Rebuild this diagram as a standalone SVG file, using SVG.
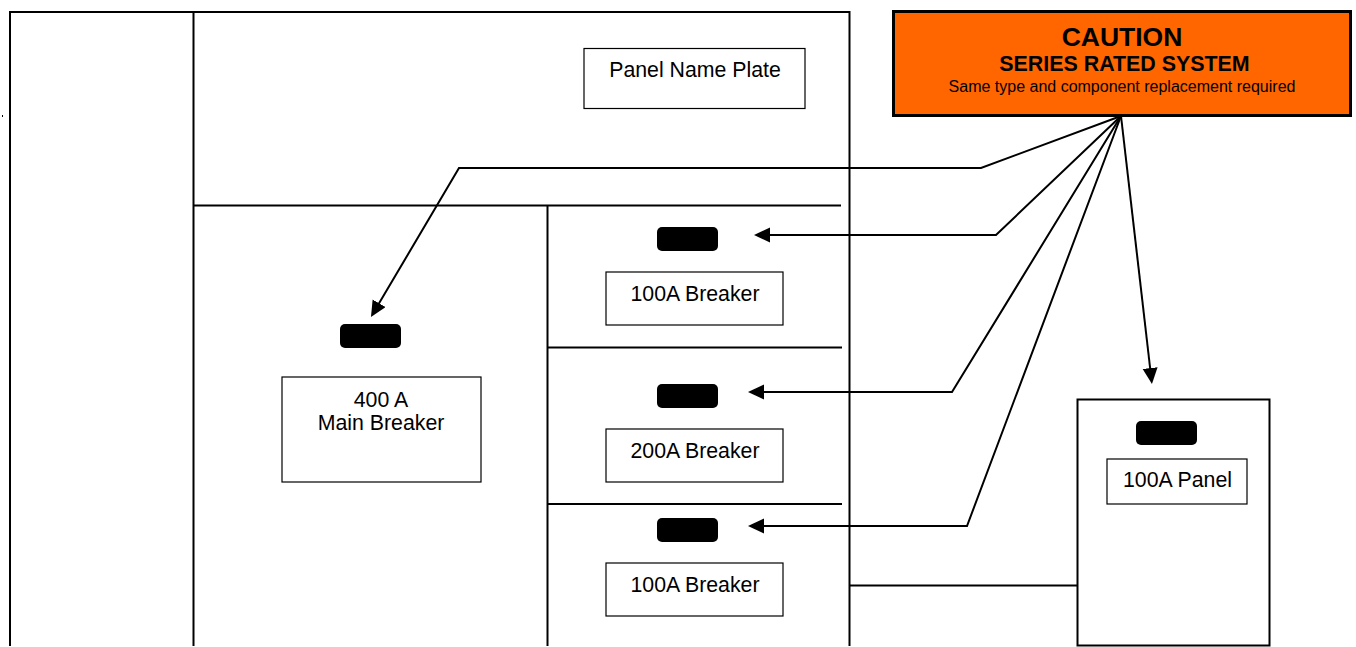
<svg xmlns="http://www.w3.org/2000/svg" width="1356" height="647" viewBox="0 0 1356 647">
<style>
.l{fill:none;stroke:#000;stroke-width:2}
.c{fill:none;stroke:#000;stroke-width:2;marker-end:url(#a)}
.b{fill:#fff;stroke:#000;stroke-width:1.2}
.k{fill:#000;stroke:none}
text{font-family:"Liberation Sans",Arial,sans-serif;fill:#000;text-anchor:middle}
.t{font-size:21.300px}
</style>
<defs>
<marker id="a" markerUnits="userSpaceOnUse" markerWidth="18" markerHeight="16" refX="12" refY="7.500" orient="auto"><path d="M0 0L16 7.500L0 15z" fill="#000"/></marker>
</defs>
<rect width="1356" height="647" fill="#fff"/>
<g id="enclosure">
<path class="l" d="M10 646V12H849.500V646"/>
<path class="l" d="M193.500 12V646"/>
<path class="l" d="M193 205.500H841"/>
<path class="l" d="M547.500 205V646"/>
<path class="l" d="M547 347.500H842"/>
<path class="l" d="M547 504H842"/>
<rect class="k" x="2" y="115" width="1" height="2"/>
</g>
<g id="name-plate"><rect class="b" x="584" y="48.500" width="221" height="60"/><text class="t" x="695" y="77">Panel Name Plate</text></g>
<g id="caution"><rect x="893.500" y="11.500" width="457" height="104" fill="#ff6600" stroke="#000" stroke-width="3"/>
<text x="1122" y="46" font-size="26.500" font-weight="bold">CAUTION</text>
<text x="1124.500" y="71" font-size="21.400" font-weight="bold">SERIES RATED SYSTEM</text>
<text x="1122" y="92" font-size="16">Same type and component replacement required</text></g>
<g id="main-breaker"><rect class="k" x="340" y="324" width="61" height="24" rx="5"/><rect class="b" x="282" y="377" width="199" height="105"/><text class="t" x="381" y="407">400 A</text><text class="t" x="381" y="430">Main Breaker</text></g>
<g id="breaker-1"><rect class="k" x="657" y="227" width="61" height="24" rx="5"/><rect class="b" x="606" y="272" width="177" height="53"/><text class="t" x="695" y="301">100A Breaker</text></g>
<g id="breaker-2"><rect class="k" x="657" y="384" width="61" height="24" rx="5"/><rect class="b" x="606" y="429" width="177" height="53"/><text class="t" x="695" y="458">200A Breaker</text></g>
<g id="breaker-3"><rect class="k" x="657" y="518" width="61" height="24" rx="5"/><rect class="b" x="606" y="563" width="177" height="53"/><text class="t" x="695" y="592">100A Breaker</text></g>
<g id="panel"><rect class="l" x="1077.500" y="399.500" width="192" height="246"/><rect class="k" x="1136" y="421" width="61" height="24" rx="5"/><rect class="b" x="1107" y="459" width="140" height="45"/><text class="t" x="1177.500" y="487">100A Panel</text></g>
<g id="connectors">
<path class="c" d="M1121 116L981 168H459L373 313.600"/>
<path class="c" d="M1121 116L996 235H758"/>
<path class="c" d="M1121 116L952 392H752"/>
<path class="c" d="M1121 116L967 526H752"/>
<path class="c" d="M1121 116L1151.500 380"/>
<path class="l" d="M850 585.500H1077"/>
</g>
</svg>
